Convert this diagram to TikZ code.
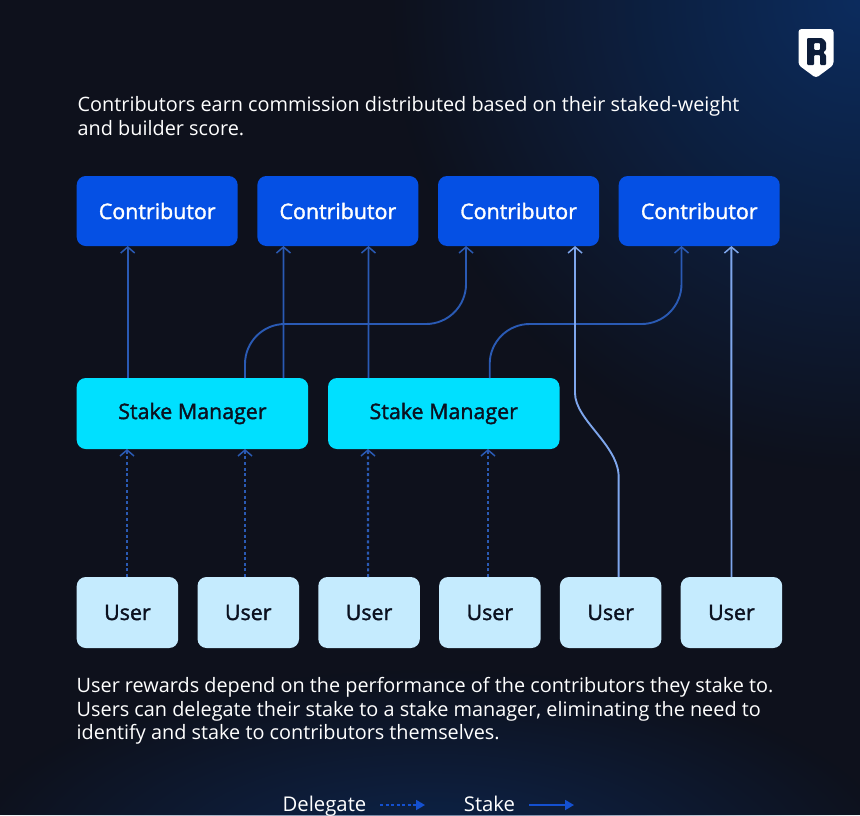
\documentclass[tikz,border=0pt]{standalone}
\usepackage{fontspec}
\setmainfont{Open Sans}
\newfontfamily\labelfont[FakeBold=1.6]{Open Sans}
\usetikzlibrary{positioning,arrows.meta,fadings}
\definecolor{RNbg}{HTML}{0E111C}
\definecolor{RNglow}{HTML}{0C2C5E}
\definecolor{RNblue}{HTML}{0550E4}
\definecolor{RNcyan}{HTML}{00E0FF}
\definecolor{RNpale}{HTML}{C5EBFE}
\definecolor{RNink}{HTML}{0B1120}
\definecolor{RNdim}{HTML}{2A5AB4}
\definecolor{RNlight}{HTML}{7EA6EC}
\definecolor{RNlegend}{HTML}{1450D0}
\tikzfading[name=glowfade, inner color=transparent!0, outer color=transparent!100]

\begin{document}
\begin{tikzpicture}[x=1pt, y=1pt,
  box/.style={rectangle, rounded corners=9pt, inner sep=0pt, outer sep=0pt, align=center,
    font=\labelfont\fontsize{21.4}{25}\selectfont},
  contrib/.style={box, fill=RNblue, text=white, minimum width=161pt, minimum height=70pt},
  manager/.style={box, fill=RNcyan, text=RNink, minimum width=231.5pt, minimum height=71pt},
  user/.style={box, fill=RNpale, text=RNink, minimum width=101.5pt, minimum height=71pt},
  para/.style={inner sep=0pt, outer sep=0pt, align=left, text=white, font=\fontsize{19.85}{23.6}\selectfont},
  keytext/.style={para, anchor=base, font=\fontsize{20.3}{24}\selectfont},
  arrow/.style={-{Straight Barb[length=6pt,width=14pt,line width=1.5pt]}, line width=1.9pt, draw=RNdim},
  bright/.style={arrow, draw=RNlight},
  dotline/.style={arrow, line width=2.1pt, dash pattern=on 3pt off 2.6pt},
  keyarrow/.style={-{Triangle[length=9pt,width=10pt]}, line width=1.8pt, draw=RNlegend}]

  % backdrop
  \fill[RNbg] (0,0) rectangle (860,-815);
  \begin{scope}
    \clip (0,0) rectangle (860,-815);
    \fill[RNglow, path fading=glowfade] (860,0) circle (470);
    \fill[RNglow, path fading=glowfade, opacity=0.75] (430,-860) ellipse (470 and 190);
  \end{scope}
  \useasboundingbox (0,0) rectangle (860,-815);

  % logo
  \fill[white, rounded corners=3pt] (798.5,-29) -- (833.5,-29) -- (833.5,-65) -- (816,-78) -- (798.5,-65) -- cycle;
  \fill[RNbg!55!RNglow, even odd rule, rounded corners=1pt]
    (807,-38) -- (822,-38) -- (826,-42) -- (826,-50) -- (823,-52.5) -- (826,-55) -- (826,-65)
    -- (820,-65) -- (820,-55) -- (814,-55) -- (814,-65) -- (807,-65) -- cycle
    (814,-43) -- (814,-50) -- (820,-50) -- (820,-43) -- cycle;

  % contributors
  \node[contrib] (con1) at (157.2,-211) {Contributor};
  \node[contrib, right=19.67pt of con1] (con2) {Contributor};
  \node[contrib, right=19.67pt of con2] (con3) {Contributor};
  \node[contrib, right=19.67pt of con3] (con4) {Contributor};

  % stake managers
  \node[manager, below=132pt of con1.south west, anchor=north west] (man1) {Stake Manager};
  \node[manager, right=19.8pt of man1] (man2) {Stake Manager};

  % users
  \node[user, below=128pt of man1.south west, anchor=north west] (usr1) {User};
  \node[user, right=19.3pt of usr1] (usr2) {User};
  \node[user, right=19.3pt of usr2] (usr3) {User};
  \node[user, right=19.3pt of usr3] (usr4) {User};
  \node[user, right=19.3pt of usr4] (usr5) {User};
  \node[user, right=19.3pt of usr5] (usr6) {User};

  % texts
  \node[para, above=40.5pt of con1.north west, anchor=south west, xshift=1pt] (top)
    {Contributors earn commission distributed based on their staked-weight\\and builder score.};
  \node[para, below=29.5pt of usr1.south west, anchor=north west] (bottom)
    {User rewards depend on the performance of the contributors they stake to.\\
     Users can delegate their stake to a stake manager, eliminating the need to\\
     identify and stake to contributors themselves.};

  % legend
  \node[keytext] (delegate) at (324.5,-811.5) {Delegate};
  \coordinate (delstart) at (380,-805);
  \coordinate (delend) at (425,-805);
  \node[keytext] (stake) at (489.5,-811.5) {Stake};
  \coordinate (stkstart) at (529,-805);
  \coordinate (stkend) at (574,-805);
  \draw[keyarrow, dash pattern=on 3pt off 2.5pt] (delstart) -- (delend);
  \draw[keyarrow] (stkstart) -- (stkend);

  % delegate
  \draw[dotline] ([xshift=-0.45pt]usr1.north) -- ([xshift=50.3pt]man1.south west);
  \draw[dotline] ([xshift=-3.25pt]usr2.north) -- ([xshift=168.3pt]man1.south west);
  \draw[dotline] ([xshift=-1pt]usr3.north) -- ([xshift=40pt]man2.south west);
  \draw[dotline] ([xshift=-1.85pt]usr4.north) -- ([xshift=160pt]man2.south west);

  % manager stake
  \draw[arrow] ([xshift=51pt]man1.north west) -- ([xshift=51pt]con1.south west);
  \draw[arrow] ([xshift=206.8pt]man1.north west) -- ([xshift=26.1pt]con2.south west);
  \draw[arrow] ([xshift=40.5pt]man2.north west) -- ([xshift=111.1pt]con2.south west);
  \draw[arrow, rounded corners=40pt] ([xshift=168.3pt]man1.north west) -- ++(0,54) -- ++(221,0)
    -- ([xshift=28pt]con3.south west);
  \draw[arrow, rounded corners=40pt] ([xshift=161.7pt]man2.north west) -- ++(0,54) -- ++(191.8,0)
    -- ([xshift=62.8pt]con4.south west);

  % user stake
  \draw[bright] ([xshift=8pt]usr5.north) -- ++(0,100)
    .. controls ++(0,32) and (575,-420) .. (575,-393) -- ([xshift=137pt]con3.south west);
  \draw[bright] (usr6.north) -- ([xshift=112.7pt]con4.south west);
\end{tikzpicture}
\end{document}
